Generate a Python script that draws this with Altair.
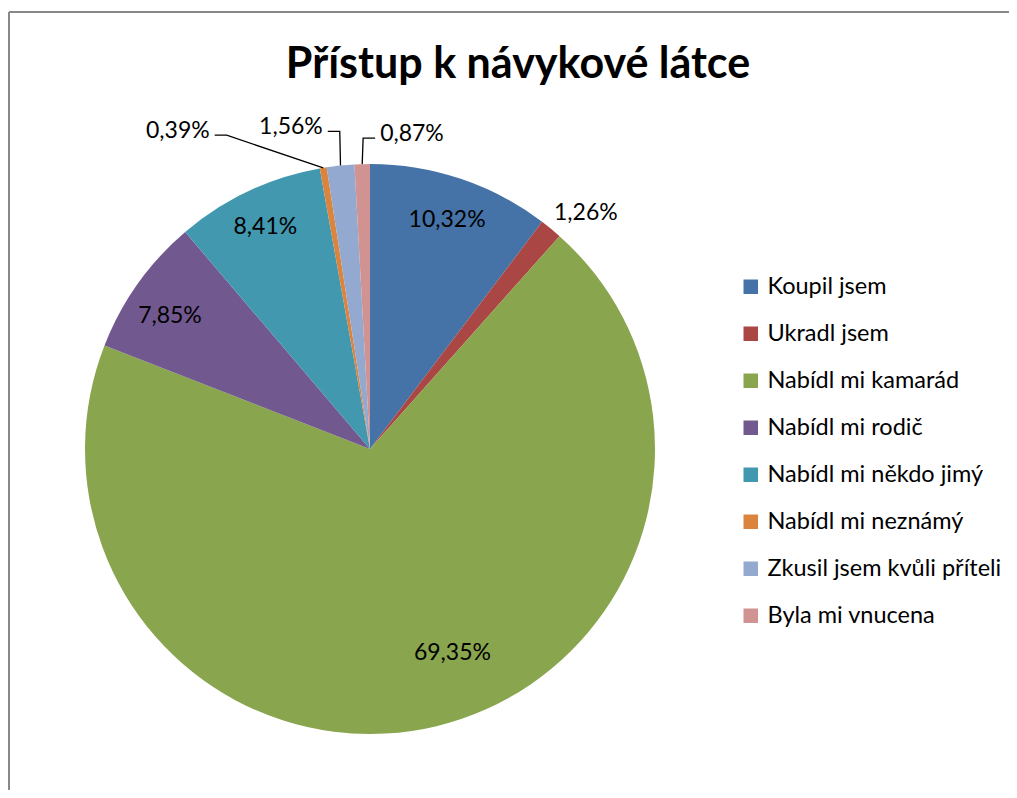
import math
import altair as alt
import pandas as pd

# ---------------- data ----------------
categories = [
    "Koupil jsem",
    "Ukradl jsem",
    "Nabídl mi kamarád",
    "Nabídl mi rodič",
    "Nabídl mi někdo jimý",
    "Nabídl mi neznámý",
    "Zkusil jsem kvůli příteli",
    "Byla mi vnucena",
]
values = [10.32, 1.26, 69.35, 7.85, 8.41, 0.39, 1.56, 0.87]
colors = ["#4572A7", "#AA4643", "#89A54E", "#71588F", "#4198AF", "#DB843D", "#93A9CF", "#D19392"]
title_text = "Přístup k návykové látce"

# ---------------- layout ----------------
W, H = 1001, 782
CX, CY, R = 362, 441, 285
FONT = "Lato"

# label placement: (kind, radius, angle nudge in degrees)
label_layout = {
    "Koupil jsem": ("c", 242, 0.0),
    "Ukradl jsem": ("c", 320, 3.0),
    "Nabídl mi kamarád": ("c", 220, -8.5),
    "Nabídl mi rodič": ("c", 240, -1.9),
    "Nabídl mi někdo jimý": ("c", 245, 0.0),
    "Nabídl mi neznámý": ("left", 345, -15.1),
    "Zkusil jsem kvůli příteli": ("left", 319, 0.5),
    "Byla mi vnucena": ("right", 311, 0.3),
}
LEG = 12
GAP = 5

df = pd.DataFrame({"category": categories, "value": values, "idx": list(range(len(values)))})
total = sum(values)
cum = 0.0
mids = []
for v in values:
    mids.append((cum + v / 2) / total * 360.0)
    cum += v
df["mid"] = mids
df["label"] = [f"{v:.2f}".replace(".", ",") + "%" for v in values]

lab_rows = []
line_rows = []
for cat, lab, mid in zip(df["category"], df["label"], df["mid"]):
    kind, r, nudge = label_layout[cat]
    a = math.radians(mid + nudge)
    px = CX + r * math.sin(a)
    py = CY - r * math.cos(a)
    if kind == "c":
        lab_rows.append({"label": lab, "kind": "c", "lx": px, "ly": py})
    else:
        sgn = -1 if kind == "left" else 1
        leg_x = px + sgn * LEG
        edge = math.radians(mid)
        ex = CX + R * math.sin(edge)
        ey = CY - R * math.cos(edge)
        for i, (xx, yy) in enumerate([(leg_x, py), (px, py), (ex, ey)]):
            line_rows.append({"category": cat, "pt": i, "x": xx, "y": yy})
        lab_rows.append({"label": lab, "kind": kind, "lx": leg_x + sgn * GAP, "ly": py - 4})

labels_df = pd.DataFrame(lab_rows)
lines_df = pd.DataFrame(line_rows)

# ---------------- marks ----------------
pie = alt.Chart(df).mark_arc(outerRadius=R).encode(
    theta=alt.Theta("value:Q", stack=True),
    order=alt.Order("idx:Q"),
    color=alt.Color(
        "category:N",
        scale=alt.Scale(domain=categories, range=colors),
        legend=alt.Legend(
            title=None,
            orient="none",
            legendX=731,
            legendY=267,
            symbolType="square",
            symbolSize=210,
            symbolStrokeWidth=0,
            labelFont=FONT,
            labelFontSize=23.5,
            labelColor="black",
            labelOffset=5,
            rowPadding=22,
            labelLimit=400,
            padding=0,
        ),
    ),
    x=alt.value(CX),
    y=alt.value(CY),
)


def text_layer(kind, align):
    return (
        alt.Chart(labels_df)
        .transform_filter(alt.datum.kind == kind)
        .mark_text(font=FONT, fontSize=23, color="black", align=align, baseline="middle")
        .encode(
            x=alt.X("lx:Q", scale=None, axis=None),
            y=alt.Y("ly:Q", scale=None, axis=None),
            text="label:N",
        )
    )


lab_c = text_layer("c", "center")
lab_l = text_layer("left", "right")
lab_r = text_layer("right", "left")

leaders = alt.Chart(lines_df).mark_line(color="black", strokeWidth=1.3).encode(
    x=alt.X("x:Q", scale=None, axis=None),
    y=alt.Y("y:Q", scale=None, axis=None),
    detail="category:N",
    order=alt.Order("pt:Q"),
)

one = pd.DataFrame({"t": [title_text]})
title = alt.Chart(one).mark_text(
    font=FONT, fontSize=43, fontWeight="bold", color="black", align="center", baseline="alphabetic"
).encode(x=alt.value(510), y=alt.value(70), text="t:N")

border_top = alt.Chart(one).mark_rule(color="#888888", strokeWidth=2).encode(
    x=alt.value(1), x2=alt.value(W + 10), y=alt.value(4)
)
border_left = alt.Chart(one).mark_rule(color="#888888", strokeWidth=2).encode(
    x=alt.value(1), y=alt.value(4), y2=alt.value(H + 10)
)

chart = (
    alt.layer(border_top, border_left, pie, leaders, lab_c, lab_l, lab_r, title)
    .properties(width=W, height=H, autosize=alt.AutoSizeParams(type="none"), padding=0, background="white")
    .configure_view(stroke=None)
)

chart.save("out.html", embed_options={"renderer": "svg", "actions": False})
